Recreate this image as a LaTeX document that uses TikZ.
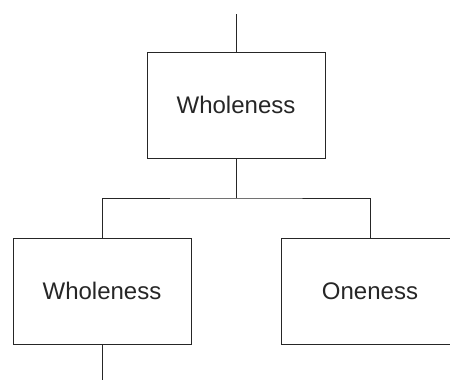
\documentclass[tikz,border=0pt]{standalone}
\usepackage{fontspec}
\setmainfont{Liberation Sans}
\begin{document}
\begin{tikzpicture}[x=1pt,y=-1pt,
  conceptbox/.style={draw=black!85, line width=1pt, minimum width=178pt, minimum height=106pt, inner sep=0pt, font=\fontsize{24}{28}\selectfont, text=black!85},
  link/.style={draw=black!85, line width=1pt}]
\clip (0,0) rectangle (450,380);
\node[conceptbox] (top) at (236,105) {Wholeness};
\node[conceptbox] (left) at (102,291) {Wholeness};
\node[conceptbox] (right) at (370,291) {Oneness};
\coordinate (topend) at (236,14);
\coordinate (bus) at (236,198);
\coordinate (botend) at (102,380);
\draw[link] (topend) -- (top.north);
\draw[link] (top.south) -- (bus);
\draw[link] (left.north) |- (bus) -| (right.north);
\draw[link] (left.south) -- (botend);
\end{tikzpicture}
\end{document}
